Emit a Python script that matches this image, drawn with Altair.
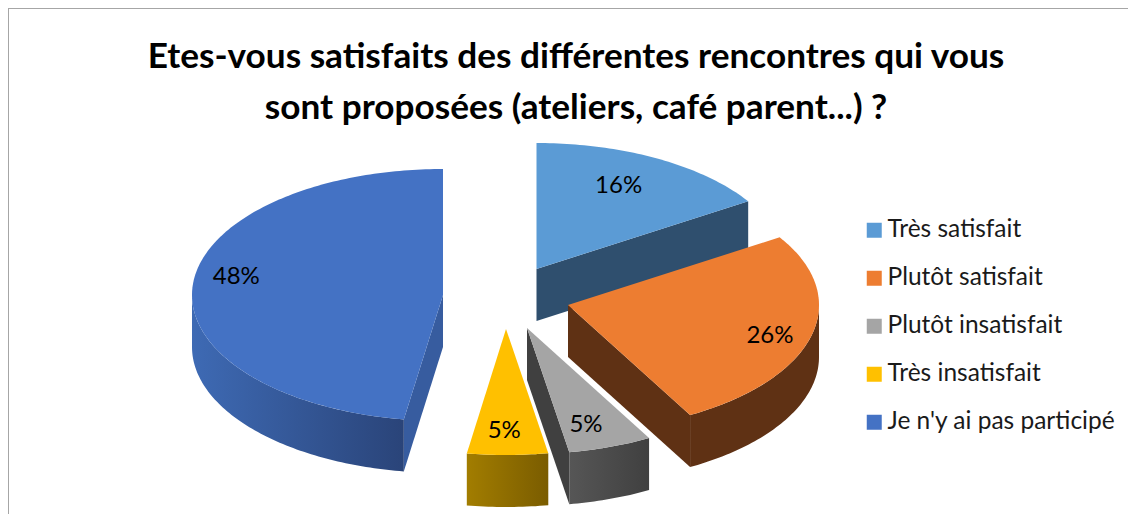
import math
import altair as alt

# ---- data ----
categories = ["Très satisfait", "Plutôt satisfait", "Plutôt insatisfait", "Très insatisfait", "Je n'y ai pas participé"]
shares = [16.0, 26.0, 5.4, 5.2, 47.6]
title_lines = ["Etes-vous satisfaits des différentes rencontres qui vous", "sont proposées (ateliers, café parent...) ?"]

# ---- styling and layout constants ----
top_colors = ["#5B9BD5", "#ED7D31", "#A5A5A5", "#FFC000", "#4472C4"]
face_colors = ["#2F4F6E", "#5F3114", "#404040", "#7F6000", "#375C9F"]
wall_stops = [("#2F4F6E", "#2F4F6E"), ("#5F3114", "#5F3114"), ("#565656", "#404040"), ("#A27D00", "#7A5C00"), ("#3E6AB4", "#2A4479")]
# explosion centre of every slice, chart coordinates (page minus 8px margin)
centers = [(528.5, 261), (560, 297), (519, 320), (498, 321), (435, 287)]
label_fx = [0.68, 0.83, 0.72, 0.80, 0.83]
label_fy = [0.76, 0.96, 0.81, 0.80, 1.94]
label_dx = [0, 0, -1, -3, 1]
RX, RY, DEPTH = 251, 126, 52
FONT = "Lato"


def pt(c, deg, dy=0.0):
    a = math.radians(deg)
    return [round(c[0] + RX * math.sin(a), 2), round(c[1] - RY * math.cos(a) + dy, 2)]


def arc(c, a0, a1, dy=0.0):
    n = max(2, int(abs(a1 - a0)) + 1)
    return [pt(c, a0 + (a1 - a0) * i / n, dy) for i in range(n + 1)]


def feature(ring, **props):
    ring = ring + [ring[0]]
    return {"type": "Feature", "properties": props, "geometry": {"type": "Polygon", "coordinates": [ring]}}


# slice angles come from the shares
total = sum(shares)
edges = [0.0]
for s in shares:
    edges.append(edges[-1] + 360 * s / total)

# draw order, back to front
order = [0, 4, 1, 2, 3]
proj = dict(type="identity", scale=1, translate=[0, 0])
layers = []

# frame (only top and left edges are visible in the reference)
layers.append(alt.Chart(alt.Data(values=[{"a": 1}])).mark_rule(color="#A6A6A6", strokeWidth=1).encode(
    x=alt.value(0), x2=alt.value(1120), y=alt.value(0.5)))
layers.append(alt.Chart(alt.Data(values=[{"a": 1}])).mark_rule(color="#A6A6A6", strokeWidth=1).encode(
    x=alt.value(0.5), y=alt.value(0), y2=alt.value(514)))

for i in order:
    c, a0, a1 = centers[i], edges[i], edges[i + 1]
    # radial faces that look toward the viewer
    faces = []
    if math.sin(math.radians(a0)) < -1e-6:
        p = pt(c, a0)
        faces.append(feature([[c[0], c[1]], p, [p[0], p[1] + DEPTH], [c[0], c[1] + DEPTH]]))
    if math.sin(math.radians(a1)) > 1e-6:
        p = pt(c, a1)
        faces.append(feature([[c[0], c[1]], p, [p[0], p[1] + DEPTH], [c[0], c[1] + DEPTH]]))
    if faces:
        layers.append(alt.Chart(alt.Data(values=faces)).mark_geoshape(fill=face_colors[i], stroke=None)
                      .project(**proj))
    # outer wall: only the part of the rim facing the viewer
    w0, w1 = max(a0, 90.0), min(a1, 270.0)
    if w1 > w0:
        ring = arc(c, w0, w1) + arc(c, w1, w0, DEPTH)
        grad = alt.LinearGradient(
            gradient="linear", x1=0, x2=1, y1=0, y2=0,
            stops=[alt.GradientStop(color=wall_stops[i][0], offset=0),
                   alt.GradientStop(color=wall_stops[i][1], offset=1)])
        layers.append(alt.Chart(alt.Data(values=[feature(ring)])).mark_geoshape(fill=grad, stroke=None)
                      .project(**proj))

# top faces, with the legend
tops = []
for i in order:
    c = centers[i]
    tops.append(feature([[c[0], c[1]]] + arc(c, edges[i], edges[i + 1]), cat=categories[i]))
layers.append(
    alt.Chart(alt.Data(values=tops)).mark_geoshape(stroke=None).encode(
        color=alt.Color(
            "properties.cat:N",
            scale=alt.Scale(domain=categories, range=top_colors),
            legend=alt.Legend(
                title=None, orient="none", legendX=854, legendY=210,
                symbolType="square", symbolSize=225, symbolStrokeWidth=0, symbolOpacity=1,
                labelFont=FONT, labelFontSize=24.5, labelColor="#1a1a1a", labelOffset=1,
                rowPadding=23, labelLimit=300,
            ),
        )
    ).project(**proj)
)

# percentage labels
rows = []
for i in range(len(shares)):
    mid = math.radians((edges[i] + edges[i + 1]) / 2)
    c = centers[i]
    rows.append({
        "lon": c[0] + RX * label_fx[i] * math.sin(mid) + label_dx[i],
        "lat": c[1] - RY * label_fy[i] * math.cos(mid) + 1,
        "txt": f"{round(shares[i])}%",
    })
layers.append(
    alt.Chart(alt.Data(values=rows)).mark_text(font=FONT, fontSize=24, color="#000000", baseline="middle", align="center")
    .encode(longitude="lon:Q", latitude="lat:Q", text="txt:N").project(**proj)
)

chart = alt.layer(*layers).properties(
    width=1120, height=506, padding=0,
    autosize=alt.AutoSizeParams(type="none"),
    title=alt.TitleParams(
        text=title_lines, font=FONT, fontSize=35.2, fontWeight="bold", color="#000000",
        anchor="middle", lineHeight=51, dx=8, dy=151, baseline="alphabetic",
    ),
).configure_view(stroke=None)

chart.save("out.html", embed_options={"renderer": "svg", "actions": False})
